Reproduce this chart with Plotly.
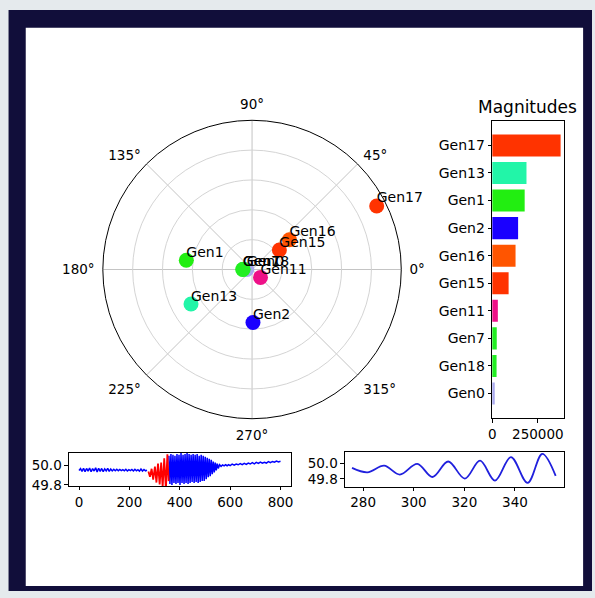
import plotly.graph_objects as go

W, H = 595, 598

# ---------------- data ----------------
gen_names = ["Gen17", "Gen13", "Gen1", "Gen2", "Gen16", "Gen15", "Gen11", "Gen7", "Gen18", "Gen0"]
magnitudes = [375000, 188000, 178000, 142000, 128000, 90000, 31000, 25000, 24000, 14000]
angles_deg = [27.0, 209.5, 172.0, 271.0, 38.5, 35.5, 317.0, 180.0, 178.0, 180.0]
gen_colors = ["#ff3300", "#22f5a8", "#22ee11", "#1a00ff", "#ff5500", "#ff3300",
              "#ee1188", "#22ee22", "#22ee22", "#aaaaee"]

# frequency trace, quiet part before the event
pre_x = [0, 6, 12, 18, 24, 30, 36, 42, 48, 54, 60, 66, 72, 78, 84, 90, 96, 102, 108, 114,
         120, 126, 132, 138, 144, 150, 156, 162, 168, 174, 180, 186, 192, 198, 204, 210,
         216, 222, 228, 234, 240, 246, 252, 258, 264, 270]
pre_y = [49.950, 49.968, 49.940, 49.972, 49.938, 49.970, 49.942, 49.975, 49.936, 49.968,
         49.944, 49.976, 49.935, 49.972, 49.940, 49.970, 49.938, 49.966, 49.944, 49.970,
         49.940, 49.965, 49.945, 49.962, 49.946, 49.962, 49.946, 49.960, 49.948, 49.958,
         49.946, 49.962, 49.944, 49.958, 49.948, 49.960, 49.944, 49.962, 49.946, 49.958,
         49.942, 49.964, 49.944, 49.960, 49.946, 49.952]

# highlighted window (growing oscillation) -- also shown zoomed in the right panel
win_x = [275.6, 281.7, 288.3, 294.5, 301.4, 307.4, 313.6, 320.2, 326.2, 332.1, 338.4, 345.0, 350.8, 356.1]
win_y = [49.940, 49.884, 49.967, 49.855, 49.990, 49.825, 50.020, 49.805, 50.030, 49.780,
         50.075, 49.750, 50.117, 49.840]

# after the window: large oscillation, decay, slow drift
post_x = [357, 361, 365, 369, 373, 377, 381, 385, 389, 393, 397, 401, 405, 409, 413, 417,
          421, 425, 429, 433, 437, 441, 445, 449, 453, 457, 461, 465, 469, 473, 477, 481,
          485, 489, 493, 497, 501, 505, 509, 513, 517, 521, 525, 529, 533, 537, 541, 545,
          549, 553, 558, 564, 570, 576, 582, 588, 594, 600,
          608, 616, 624, 632, 640, 648, 656, 664, 672, 680, 688, 696, 704, 712, 720, 728,
          736, 744, 752, 760, 768, 776, 784, 792, 800]
post_y = [50.10, 49.81, 50.12, 49.80, 50.11, 49.82, 50.10, 49.81, 50.12, 49.82, 50.11, 49.80,
          50.13, 49.82, 50.11, 49.81, 50.12, 49.82, 50.13, 49.81, 50.12, 49.82, 50.11, 49.83,
          50.12, 49.82, 50.11, 49.83, 50.12, 49.82, 50.10, 49.83, 50.11, 49.84, 50.10, 49.84,
          50.09, 49.86, 50.08, 49.88, 50.07, 49.89, 50.06, 49.91, 50.04, 49.93, 50.03, 49.95,
          50.02, 49.97, 50.008, 49.992, 50.006, 49.996, 50.008, 49.998, 50.010,
          50.000, 50.014, 50.004, 50.016, 50.008, 50.020, 50.010, 50.022, 50.012, 50.026,
          50.016, 50.030, 50.018, 50.032, 50.022, 50.036, 50.024, 50.034, 50.026, 50.040,
          50.030, 50.042, 50.034, 50.046, 50.038, 50.044]

left_xticks = [0, 200, 400, 600, 800]
right_xticks = [280, 300, 320, 340]
freq_yticks = [49.8, 50.0]

# ---------------- helpers ----------------
def px_x(p):
    return p / W

def px_y(p):
    return 1 - p / H

FONT = "DejaVu Sans"
TF = dict(family=FONT, size=13.5, color="black")
TFB = dict(family=FONT, size=14, color="black")

fig = go.Figure()

# polar: markers (small first so they stay underneath)
order = list(range(len(gen_names)))[::-1]
fig.add_trace(go.Scatterpolar(
    r=[magnitudes[i] for i in order],
    theta=[angles_deg[i] for i in order],
    mode="markers",
    marker=dict(size=15, color=[gen_colors[i] for i in order], line=dict(width=0)),
    hoverinfo="skip", showlegend=False, subplot="polar"))
fig.add_trace(go.Scatterpolar(
    r=[magnitudes[i] for i in order],
    theta=[angles_deg[i] for i in order],
    mode="text",
    text=[gen_names[i] for i in order],
    textposition="top right",
    textfont=TFB,
    hoverinfo="skip", showlegend=False, subplot="polar"))

# bar chart
fig.add_trace(go.Bar(
    x=magnitudes, y=gen_names, orientation="h", width=0.8,
    marker=dict(color=gen_colors, line=dict(width=0)),
    xaxis="x", yaxis="y", showlegend=False, hoverinfo="skip"))

# bottom-left full trace
fig.add_trace(go.Scatter(x=pre_x, y=pre_y, mode="lines", line=dict(color="#0000ff", width=1.5),
                         xaxis="x2", yaxis="y2", showlegend=False, hoverinfo="skip"))
fig.add_trace(go.Scatter(x=post_x, y=post_y, mode="lines", line=dict(color="#0000ff", width=1.5),
                         xaxis="x2", yaxis="y2", showlegend=False, hoverinfo="skip"))
fig.add_trace(go.Scatter(x=win_x, y=win_y, mode="lines", line=dict(color="#ff0000", width=1.8),
                         xaxis="x2", yaxis="y2", showlegend=False, hoverinfo="skip"))

# bottom-right zoom
fig.add_trace(go.Scatter(x=win_x, y=win_y, mode="lines", line=dict(color="#2020dd", width=1.8, shape="spline"),
                         xaxis="x3", yaxis="y3", showlegend=False, hoverinfo="skip"))

frame = dict(showline=True, mirror=True, linecolor="black", linewidth=1, ticks="outside",
             ticklen=3.5, tickcolor="black", showgrid=False, zeroline=False,
             tickfont=TF)

fig.update_layout(
    width=W, height=H, autosize=False,
    margin=dict(l=0, r=0, t=0, b=0),
    paper_bgcolor="#e5eaed", plot_bgcolor="white",
    font=dict(family=FONT, color="black"),
    showlegend=False,
    polar=dict(
        domain=dict(x=[px_x(100), px_x(402)], y=[px_y(423.7), px_y(121.7)]),
        bgcolor="white",
        angularaxis=dict(rotation=0, direction="counterclockwise", dtick=45,
                         ticksuffix="°", showline=True, linecolor="black", linewidth=1,
                         gridcolor="#c4c4c4", ticks="outside", ticklen=5,
                         tickcolor="rgba(0,0,0,0)", tickfont=TF),
        radialaxis=dict(range=[0, 400000], tickvals=[80000, 160000, 240000, 320000, 400000],
                        showticklabels=False, ticks="", showline=False,
                        gridcolor="#d4d4d4")),
    xaxis=dict(frame, domain=[px_x(494), px_x(566.7)], anchor="y",
               range=[0, 393750], tickvals=[0, 250000], ticktext=["0", "250000"]),
    yaxis=dict(frame, domain=[px_y(423), px_y(122.3)], anchor="x",
               type="category", categoryorder="array", categoryarray=gen_names,
               range=[9.89, -0.89], tickfont=TFB),
    xaxis2=dict(frame, domain=[px_x(65.7), px_x(290)], anchor="y2",
                range=[-40, 840], tickvals=left_xticks),
    yaxis2=dict(frame, domain=[px_y(491.7), px_y(458.3)], anchor="x2",
                range=[49.79, 50.13], tickvals=freq_yticks, tickformat=".1f"),
    xaxis3=dict(frame, domain=[px_x(345), px_x(566.7)], anchor="y3",
                range=[272.8, 359.4], tickvals=right_xticks),
    yaxis3=dict(frame, domain=[px_y(492.3), px_y(457.3)], anchor="x3",
                range=[49.705, 50.14], tickvals=freq_yticks, tickformat=".1f"),
    shapes=[
        dict(type="rect", xref="paper", yref="paper", x0=px_x(4.6), x1=1, y0=0, y1=px_y(10),
             fillcolor="#110e3a", line=dict(width=0), layer="below"),
        dict(type="rect", xref="paper", yref="paper", x0=px_x(22), x1=px_x(586),
             y0=px_y(593), y1=px_y(28), fillcolor="white", line=dict(width=0), layer="below"),
    ],
    annotations=[
        dict(text="Magnitudes", xref="paper", yref="paper", x=px_x(530), y=px_y(108),
             xanchor="center", yanchor="middle", showarrow=False,
             font=dict(family=FONT, size=17, color="black")),
    ],
)

post_js = ("document.body.style.margin='0';"
           "document.body.style.overflow='hidden';")

fig.write_html("out.html", config={"displayModeBar": False}, post_script=post_js)
